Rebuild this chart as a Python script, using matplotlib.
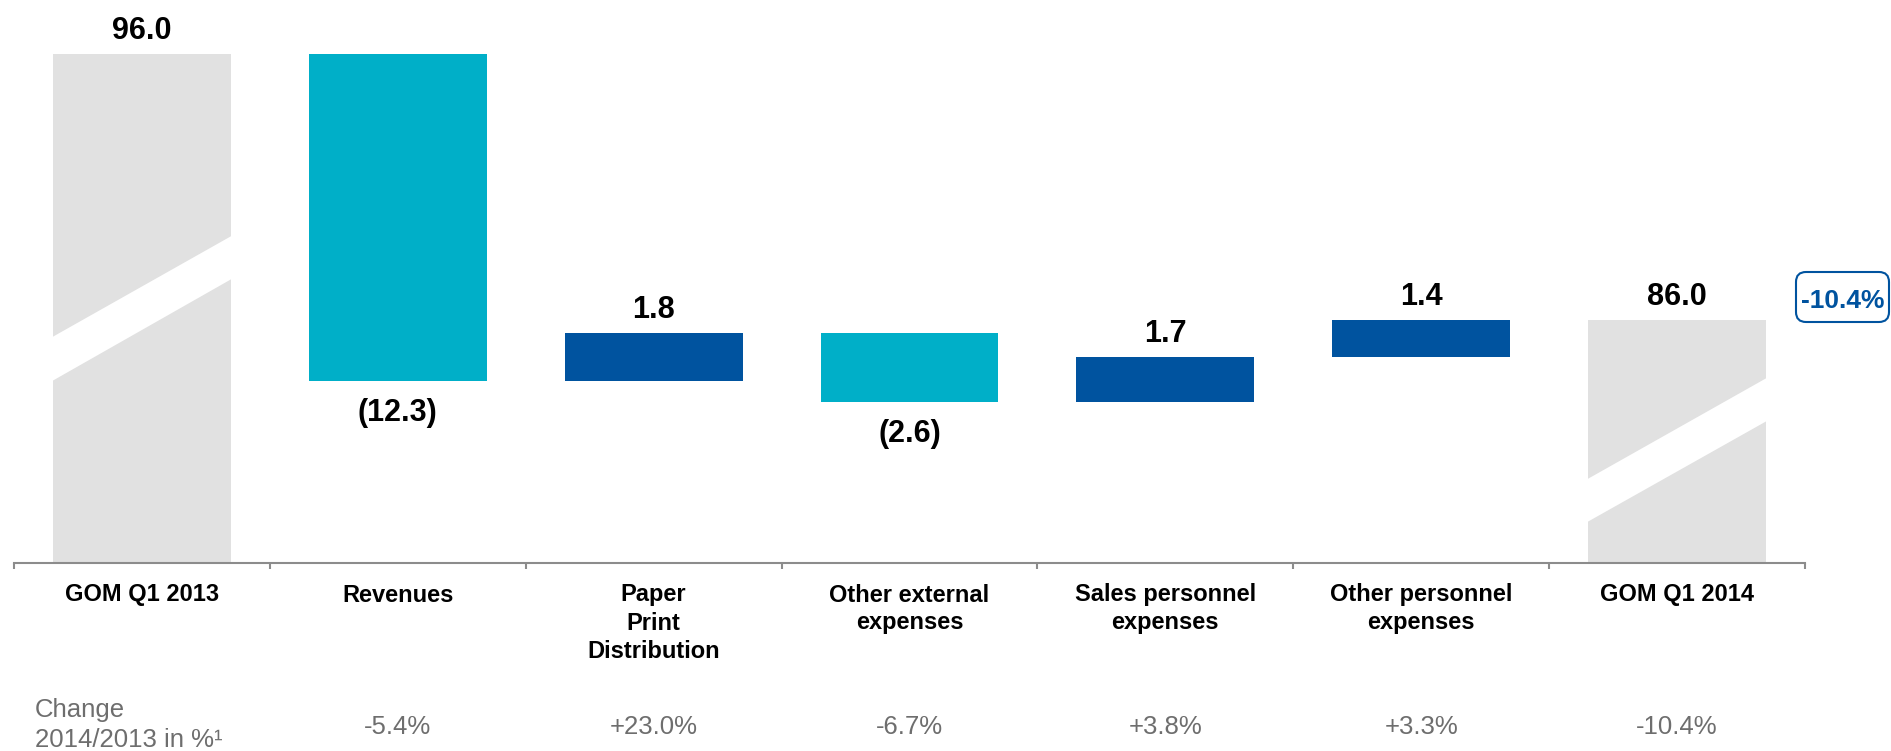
import matplotlib
matplotlib.use("Agg")
import matplotlib.pyplot as plt
from matplotlib.patches import Polygon, FancyBboxPatch
from matplotlib.transforms import IdentityTransform

# ---------------- data ----------------
categories = ["GOM Q1 2013", "Revenues", "Paper\nPrint\nDistribution",
              "Other external\nexpenses", "Sales personnel\nexpenses",
              "Other personnel\nexpenses", "GOM Q1 2014"]
start_value = 96.0
deltas = [-12.3, 1.8, -2.6, 1.7, 1.4]
end_value = 86.0
value_labels = ["96.0", "(12.3)", "1.8", "(2.6)", "1.7", "1.4", "86.0"]
change_values = ["-5.4%", "+23.0%", "-6.7%", "+3.8%", "+3.3%", "-10.4%"]
change_title = ["Change", "2014/2013 in %\u00b9"]
total_change = "-10.4%"

# ---------------- style ----------------
FONT = "Liberation Sans"
GREY_BAR = "#E1E1E1"
TEAL = "#00AFC8"
BLUE = "#00539F"
AXIS_GREY = "#8C8C8C"
TEXT_GREY = "#6E6E6E"
W, H = 1891, 751

plt.rcParams["font.family"] = [FONT, "DejaVu Sans"]

fig = plt.figure(figsize=(W / 100, H / 100), dpi=100)
ax = fig.add_axes([14 / W, (H - 563) / H, (1805 - 14) / W, 563 / H])

px_per_unit = 26.6
ax.set_xlim(-0.5, 6.5)
ax.set_ylim(96 - (563 - 54) / px_per_unit, 96 + 54 / px_per_unit)

bar_w = 0.695
n = len(categories)
xs = list(range(n))

# start bar
ax.bar(xs[0], start_value, width=bar_w, bottom=0, color=GREY_BAR, zorder=2)
# delta bars
running = start_value
tops, bottoms = [start_value], [ax.get_ylim()[0]]
for i, d in enumerate(deltas):
    lo, hi = (running + d, running) if d < 0 else (running, running + d)
    ax.bar(xs[i + 1], hi - lo, width=bar_w, bottom=lo,
           color=TEAL if d < 0 else BLUE, zorder=2)
    tops.append(hi)
    bottoms.append(lo)
    running += d
# end bar
ax.bar(xs[-1], end_value, width=bar_w, bottom=0, color=GREY_BAR, zorder=2)
tops.append(end_value)
bottoms.append(ax.get_ylim()[0])

# axis-break bands (white slanted stripes) on the total bars
break_bands = {
    0: (83.67, 87.58, 89.20, 85.32),
    6: (78.37, 82.24, 83.86, 79.98),
}
for i, (ll, lr, ur, ul) in break_bands.items():
    xl, xr = xs[i] - bar_w / 2 - 0.01, xs[i] + bar_w / 2 + 0.01
    ax.add_patch(Polygon([(xl, ll), (xr, lr), (xr, ur), (xl, ul)],
                         closed=True, facecolor="white", edgecolor="none",
                         zorder=3))

# value labels
signs = [1] + [1 if d > 0 else -1 for d in deltas] + [1]
for i, lab in enumerate(value_labels):
    if signs[i] > 0:
        ax.annotate(lab, (xs[i], tops[i]), xytext=(0, 15 * 0.72),
                    textcoords="offset points", ha="center", va="baseline",
                    fontsize=22, fontweight="bold", color="black")
    else:
        ax.annotate(lab, (xs[i], bottoms[i]), xytext=(0, -39.5 * 0.72),
                    textcoords="offset points", ha="center", va="baseline",
                    fontsize=22, fontweight="bold", color="black")

# axis styling
for s in ["top", "right", "left"]:
    ax.spines[s].set_visible(False)
ax.spines["bottom"].set_color(AXIS_GREY)
ax.spines["bottom"].set_linewidth(1.5)
ax.set_yticks([])
ax.set_xticks([x - 0.5 for x in xs] + [xs[-1] + 0.5])
ax.set_xticklabels([])
ax.tick_params(axis="x", direction="out", length=4.5, width=1.5,
               color=AXIS_GREY)

# category labels (line by line)
trans = ax.get_xaxis_transform()


def ypix_to_axes(ypix):
    return (563 - ypix) / 563


for i, cat in enumerate(categories):
    for j, line in enumerate(cat.split("\n")):
        ax.text(xs[i], ypix_to_axes(601.5 + 28 * j), line, transform=trans,
                ha="center", va="baseline", fontsize=17, fontweight="bold",
                color="black", clip_on=False)

# change row
for j, line in enumerate(change_title):
    ax.text(-0.5 + (35 - 14) / 256, ypix_to_axes(717 + 30 * j), line,
            transform=trans, ha="left", va="baseline", fontsize=18.5,
            color=TEXT_GREY, clip_on=False)
for i, v in enumerate(change_values):
    ax.text(xs[i + 1], ypix_to_axes(734), v, transform=trans, ha="center",
            va="baseline", fontsize=18.5, color=TEXT_GREY, clip_on=False)

# total change box
box = FancyBboxPatch((1796, H - 322), 93, 50,
                     boxstyle="round,pad=0,rounding_size=10",
                     transform=IdentityTransform(), facecolor="white",
                     edgecolor=BLUE, linewidth=1.5)
fig.add_artist(box)
fig.text(1843 / W, (H - 308.5) / H, total_change, ha="center", va="baseline",
         fontsize=19, fontweight="bold", color=BLUE)

fig.savefig("out.png", dpi=100)
